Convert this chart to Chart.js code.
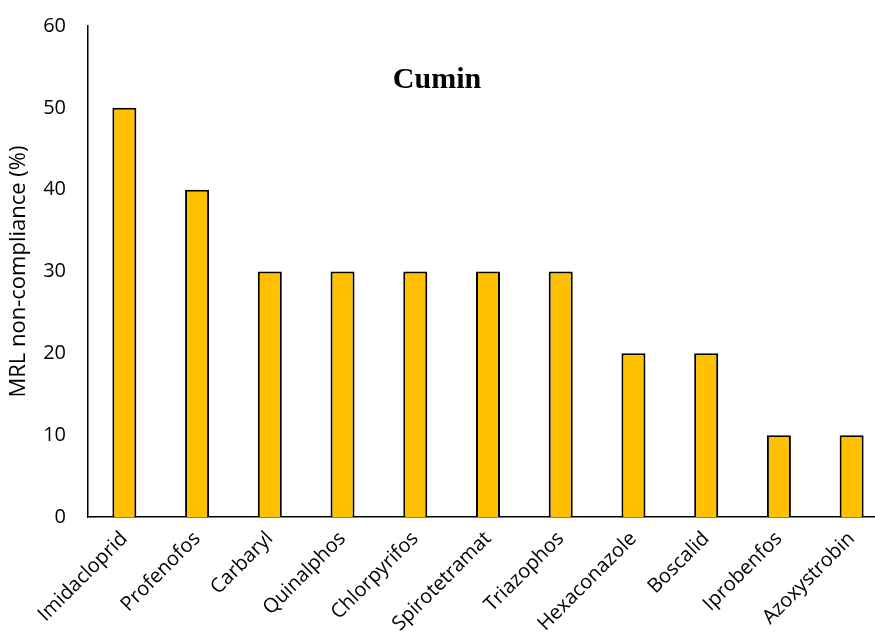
<!DOCTYPE html>
<html>
<head>
<meta charset="utf-8">
<script src="https://cdn.jsdelivr.net/npm/chart.js@4.4.1/dist/chart.umd.min.js"></script>
<style>
  html, body { margin: 0; padding: 0; background: #ffffff; overflow: hidden; }
  #wrap { position: relative; width: 900px; height: 635px; }
</style>
</head>
<body>
<div id="wrap"><canvas id="chart" width="900" height="635"></canvas></div>
<script>
// Pesticides detected above MRL in cumin samples
const pesticides = ['Imidacloprid', 'Profenofos', 'Carbaryl', 'Quinalphos', 'Chlorpyrifos',
  'Spirotetramat', 'Triazophos', 'Hexaconazole', 'Boscalid', 'Iprobenfos', 'Azoxystrobin'];
const nonCompliance = [50, 40, 30, 30, 30, 30, 30, 20, 20, 10, 10];
const yTicks = [0, 10, 20, 30, 40, 50, 60];

const chartTitle = 'Cumin';
const yAxisTitle = 'MRL non-compliance (%)';

// Title written inside the plot area, above the bars
const innerTitle = {
  id: 'innerTitle',
  afterDraw(chart) {
    const { ctx, chartArea } = chart;
    ctx.save();
    ctx.font = 'bold 30px "Liberation Serif", "Times New Roman", serif';
    ctx.fillStyle = '#000000';
    ctx.textAlign = 'center';
    ctx.textBaseline = 'middle';
    ctx.fillText(chartTitle, 437, chartArea.top + 54);
    ctx.restore();
  }
};

new Chart(document.getElementById('chart'), {
  type: 'bar',
  data: {
    labels: pesticides,
    datasets: [{
      data: nonCompliance,
      backgroundColor: '#FFC000',
      borderColor: '#000000',
      borderWidth: 2,
      barPercentage: 0.33,
      categoryPercentage: 1.0
    }]
  },
  options: {
    responsive: false,
    animation: false,
    layout: { padding: { top: 20, right: 12, left: 0, bottom: 0 } },
    plugins: {
      legend: { display: false },
      tooltip: { enabled: false }
    },
    scales: {
      x: {
        grid: { display: false },
        border: { display: true, color: '#000000', width: 1.5 },
        ticks: {
          color: '#000000',
          font: { family: '"Open Sans", sans-serif', size: 20 },
          minRotation: 45,
          maxRotation: 45,
          padding: 2
        },
        afterFit(scale) { scale.height = 118; }
      },
      y: {
        min: 0,
        max: 60,
        afterBuildTicks(scale) { scale.ticks = yTicks.map(v => ({ value: v })); },
        grid: { display: false },
        border: { display: true, color: '#000000', width: 1.5 },
        ticks: {
          color: '#000000',
          font: { family: '"Open Sans", sans-serif', size: 20 },
          padding: 14
        },
        title: {
          display: true,
          text: yAxisTitle,
          color: '#000000',
          font: { family: '"Open Sans", sans-serif', size: 22 },
          padding: { top: 6, bottom: 0 }
        },
        afterFit(scale) { scale.width = 88; }
      }
    }
  },
  plugins: [innerTitle]
});
</script>
</body>
</html>
